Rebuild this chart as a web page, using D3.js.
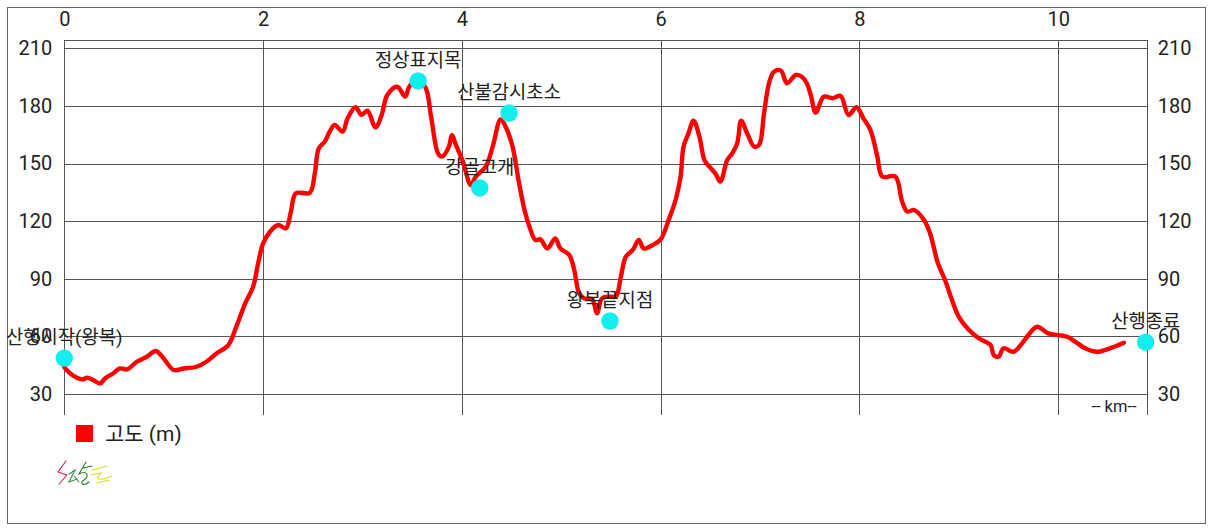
<!DOCTYPE html>
<html><head><meta charset="utf-8">
<script src="https://cdn.jsdelivr.net/npm/d3@7"></script>
<style>
html,body{margin:0;padding:0;background:#fff;}
svg text{font-family:Roboto,"Noto Sans CJK KR","Noto Sans",sans-serif;}
</style></head>
<body><svg id="c" width="1214" height="532"></svg>
<script>
// ---- data ----
const distKm = [0,0.06,0.18,0.23,0.29,0.36,0.41,0.49,0.56,0.63,0.73,0.83,0.92,1.0,1.10,1.20,1.33,1.43,1.53,1.65,1.73,1.82,1.90,1.95,2.0,2.07,2.15,2.23,2.28,2.33,2.47,2.52,2.56,2.62,2.67,2.72,2.80,2.85,2.93,2.99,3.05,3.13,3.19,3.25,3.35,3.43,3.47,3.54,3.63,3.69,3.76,3.80,3.87,3.90,3.94,4.01,4.09,4.14,4.24,4.31,4.39,4.44,4.51,4.57,4.63,4.68,4.74,4.79,4.86,4.94,4.99,5.08,5.13,5.18,5.23,5.31,5.36,5.41,5.50,5.55,5.60,5.65,5.72,5.78,5.83,5.92,6.0,6.08,6.15,6.20,6.23,6.28,6.33,6.39,6.44,6.49,6.55,6.60,6.67,6.72,6.77,6.81,6.87,6.94,6.99,7.04,7.09,7.14,7.21,7.27,7.36,7.42,7.47,7.51,7.56,7.64,7.73,7.81,7.89,7.97,8.04,8.11,8.18,8.23,8.36,8.43,8.48,8.55,8.65,8.71,8.79,8.86,8.93,9.00,9.10,9.20,9.32,9.35,9.40,9.45,9.55,9.65,9.74,9.79,9.90,10.0,10.09,10.17,10.27,10.39,10.52,10.66];
const elevM = [44,40.7,37.6,38.5,37.3,35.5,38.1,40.7,43.3,42.8,46.8,49.4,52.4,48.5,42.5,43.3,44.2,46.8,51.1,55.5,65,77.2,85.9,98,108.4,114.5,118,116.3,125,134.5,134.8,144.9,157.9,161.4,166.6,170.1,166.6,173.5,179.3,175.3,177.5,168.9,174.8,185.7,190,184.8,190,193,190,174.4,155.3,153.6,158.8,164.9,159.7,151,138.8,143.2,148.4,158.8,173,169.2,158.8,141.4,125.8,117.1,110.2,110.5,105.8,111,105.8,102.4,94.6,82.4,79.8,79.3,72,79.8,80.7,80.7,91.2,101.5,105,110.2,105.8,107.6,110.5,120.6,131,143.1,158.8,165.8,172.3,164,151.8,148.4,144.9,140.6,151.8,155.3,160.5,172.3,165.8,158.8,159.7,176.1,191.8,197.8,198.4,191.8,196.1,195.2,191.8,185.7,176.5,184.8,184,185.2,175.3,179.3,173.5,167.5,153.6,143.2,143.2,130.1,125,125.8,120.6,113.7,98,89.5,79.1,70.2,63.4,59,55.5,50.3,49.4,53.8,52,57.3,63.3,65,61.6,60.7,59.8,57.3,53.8,52,53.8,56.7];
const poiNames = ["산행시작(왕복)","정상표지목","강골고개","산불감시초소","왕복끝지점","산행종료"];
const poiKm = [0,3.56,4.18,4.475,5.49,10.88];
const poiElev = [48.7,193,137.3,176.3,68,57];
const xTicks = [0,2,4,6,8,10];
const yTicks = [30,60,90,120,150,180,210];
const seriesName = "고도 (m)";
const unitLabel = "-- km--";

// ---- layout ----
const svg = d3.select("#c");
const x = d3.scaleLinear().domain([0,10.89]).range([64.3,1146.7]);
const y = d3.scaleLinear().domain([19.07,214.58]).range([415,39.5]);
const [x0,x1] = x.range(); const [yb,yt] = y.range();

// outer border
svg.append("rect").attr("x",7.5).attr("y",7.5).attr("width",1198).attr("height",516)
  .attr("fill","none").attr("stroke","#666").attr("stroke-width",1);

const grid = svg.append("g").attr("stroke","#555").attr("stroke-width",1).attr("shape-rendering","crispEdges");
grid.selectAll("line.h").data(yTicks).join("line").attr("class","h")
  .attr("x1",x0).attr("x2",x1).attr("y1",d=>Math.round(y(d))+0.5).attr("y2",d=>Math.round(y(d))+0.5);
grid.append("line").attr("x1",x0).attr("x2",x1).attr("y1",Math.round(yt)+0.5).attr("y2",Math.round(yt)+0.5);
grid.selectAll("line.v").data(xTicks.concat([x.domain()[1]])).join("line").attr("class","v")
  .attr("x1",d=>Math.round(x(d))+0.5).attr("x2",d=>Math.round(x(d))+0.5).attr("y1",yt).attr("y2",yb);

// axes
const axTop = svg.append("g").attr("transform",`translate(0,${yt})`)
  .call(d3.axisTop(x).tickValues(xTicks).tickSize(0).tickPadding(13.5).tickFormat(d3.format("d")));
axTop.select(".domain").remove();
axTop.selectAll("text").attr("font-size",20).attr("fill","#222");

const axL = svg.append("g").attr("transform",`translate(${x0},0)`)
  .call(d3.axisLeft(y).tickValues(yTicks).tickSize(0).tickPadding(12));
axL.select(".domain").remove();
axL.selectAll("text").attr("font-size",20).attr("fill","#222");

const axR = svg.append("g").attr("transform",`translate(${x1},0)`)
  .call(d3.axisRight(y).tickValues(yTicks).tickSize(0).tickPadding(11));
axR.select(".domain").remove();
axR.selectAll("text").attr("font-size",20).attr("fill","#222");

// line
const pts = distKm.map((d,i)=>[d,elevM[i]]);
const line = d3.line().x(d=>x(d[0])).y(d=>y(d[1])).curve(d3.curveCatmullRom.alpha(0.5));
svg.append("path").attr("d",line(pts)).attr("fill","none").attr("stroke","#f00")
  .attr("stroke-width",4.4).attr("stroke-linejoin","round").attr("stroke-linecap","round");

// POIs
const poi = svg.append("g").selectAll("g").data(poiNames).join("g")
  .attr("transform",(d,i)=>`translate(${x(poiKm[i])},${y(poiElev[i])})`);
poi.append("circle").attr("r",8.7).attr("fill","#10eeee");
poi.append("text").attr("y",-14).attr("text-anchor","middle").attr("font-size",18.8)
  .attr("fill","#222").text(d=>d);

// km unit label
svg.append("text").attr("x",1114).attr("y",412).attr("text-anchor","middle")
  .attr("font-size",16.5).attr("fill","#222").text(unitLabel);

// legend
svg.append("rect").attr("x",76).attr("y",425).attr("width",17).attr("height",17).attr("fill","#f00");
svg.append("text").attr("x",105).attr("y",441).attr("font-size",21).attr("fill","#222").text(seriesName);

// signature scribble
const sig = svg.append("g").attr("transform","translate(57,460)").attr("fill","none")
  .attr("stroke-width",1.1).attr("stroke-linecap","round");
sig.append("path").attr("d","M9,1 L1,12 L10,15 L2,24").attr("stroke","#d8204a");
sig.append("path").attr("d","M12,14 L18,10 L12,22 L20,19 M17,16 L22,22").attr("stroke","#3a8a3a");
sig.append("path").attr("d","M29,2 L22,14 C30,10 33,16 27,20 C22,23 26,27 32,22 M26,8 L35,6").attr("stroke","#2a7a2a");
sig.append("path").attr("d","M35,10 L50,6 M34,15 L44,13 C40,17 38,20 46,19 L55,16 M40,23 L52,20").attr("stroke","#d8e020");
</script></body></html>
